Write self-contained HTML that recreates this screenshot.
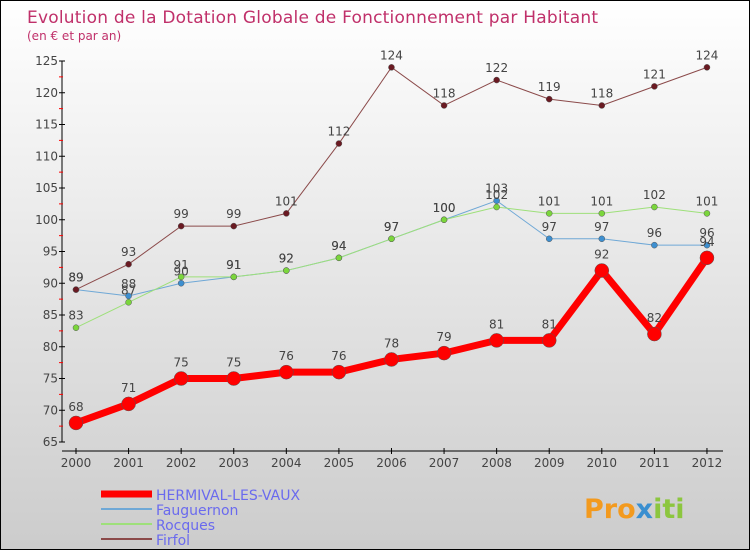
<!DOCTYPE html>
<html><head><meta charset="utf-8"><style>
body{margin:0}
#c{width:750px;height:550px;position:relative;box-sizing:border-box;border:1px solid #000;background:linear-gradient(#fff,#ccc);font-family:"DejaVu Sans","Liberation Sans",sans-serif;overflow:hidden}
svg text{font-family:"DejaVu Sans","Liberation Sans",sans-serif}
</style></head><body>
<div id="c">
<svg id="s" width="750" height="550">
<text x="26" y="22" font-size="17" fill="#c0306a" textLength="571">Evolution de la Dotation Globale de Fonctionnement par Habitant</text>
<text x="26" y="39" font-size="12" fill="#c0306a">(en € et par an)</text>
<g id="axes"></g><g id="series"></g><g id="legend"></g>
<text x="583" y="517" font-size="27" font-weight="bold" fill="#f39a1e">Pro<tspan fill="#3a8fd0">x</tspan><tspan fill="#8cc63f">iti</tspan></text>
</svg></div>
<script>
const years=[2000,2001,2002,2003,2004,2005,2006,2007,2008,2009,2010,2011,2012];
const yTicks=[65,70,75,80,85,90,95,100,105,110,115,120,125];
const hermival=[68,71,75,75,76,76,78,79,81,81,92,82,94];
const fauguernon=[89,88,90,91,92,94,97,100,103,97,97,96,96];
const rocques=[83,87,91,91,92,94,97,100,102,101,101,102,101];
const firfol=[89,93,99,99,101,112,124,118,122,119,118,121,124];
const names=["HERMIVAL-LES-VAUX","Fauguernon","Rocques","Firfol"];
const NS="http://www.w3.org/2000/svg";
const X=i=>75+i*52.58, Y=v=>441-(v-65)*6.35;
function mk(t,a,p){const e=document.createElementNS(NS,t);for(const k in a)e.setAttribute(k,a[k]);p.appendChild(e);return e;}
const ax=document.getElementById('axes');
let l=mk('line',{x1:61,y1:60,x2:61,y2:441,stroke:'#000'},ax);


l=mk('line',{x1:61,y1:450,x2:722,y2:450,stroke:'#000'},ax);


yTicks.forEach(v=>{mk('line',{x1:58,x2:64,y1:Y(v),y2:Y(v),stroke:'#000'},ax);
 if(v<125)mk('line',{x1:58,x2:62,y1:Y(v+2.5),y2:Y(v+2.5),stroke:'#f00'},ax);
 const t=mk('text',{x:57,y:Y(v)+4,'text-anchor':'end','font-size':12,fill:'#444'},ax);t.textContent=v;
 
 });
years.forEach((y,i)=>{mk('line',{x1:X(i),x2:X(i),y1:447,y2:453,stroke:'#000'},ax);
 const t=mk('text',{x:X(i),y:466,'text-anchor':'middle','font-size':12,fill:'#444'},ax);t.textContent=y;
 
 });
const sg=document.getElementById('series');
function draw(d,col,dot,w,r,nm){const g=mk('g',{},sg);
 
 
 mk('polyline',{points:d.map((v,i)=>X(i)+','+Y(v)).join(' '),fill:'none',stroke:col,'stroke-width':w},g);
 d.forEach((v,i)=>{mk('circle',{cx:X(i),cy:Y(v),r:r,fill:dot,stroke:'#555','stroke-width':0.5},g);
  const t=mk('text',{x:X(i),y:Y(v)-(w>3?12:8),'text-anchor':'middle','font-size':12,fill:'#444'},g);t.textContent=v;});}
draw(fauguernon,'#6fa8d6','#3d8fd0',1,3,'series-fauguernon');
draw(rocques,'#9ee07a','#7bd63c',1,3,'series-rocques');
draw(firfol,'#8b4a4a','#6a1a22',1,3,'series-firfol');
draw(hermival,'#f00','#f00',7,7,'series-hermival');
const lg=document.getElementById('legend');
const lc=['#f00','#6fa8d6','#9ee07a','#8b4a4a'],lw=[7,2,2,2];
names.forEach((n,i)=>{const y=493+i*15;const g=mk('g',{},lg);
 
 
 mk('line',{x1:100,x2:151,y1:y,y2:y,stroke:lc[i],'stroke-width':lw[i]},g);
 const t=mk('text',{x:155,y:y+6,'font-size':14,fill:'#6a6aee'},g);t.textContent=n;});
</script></body></html>
